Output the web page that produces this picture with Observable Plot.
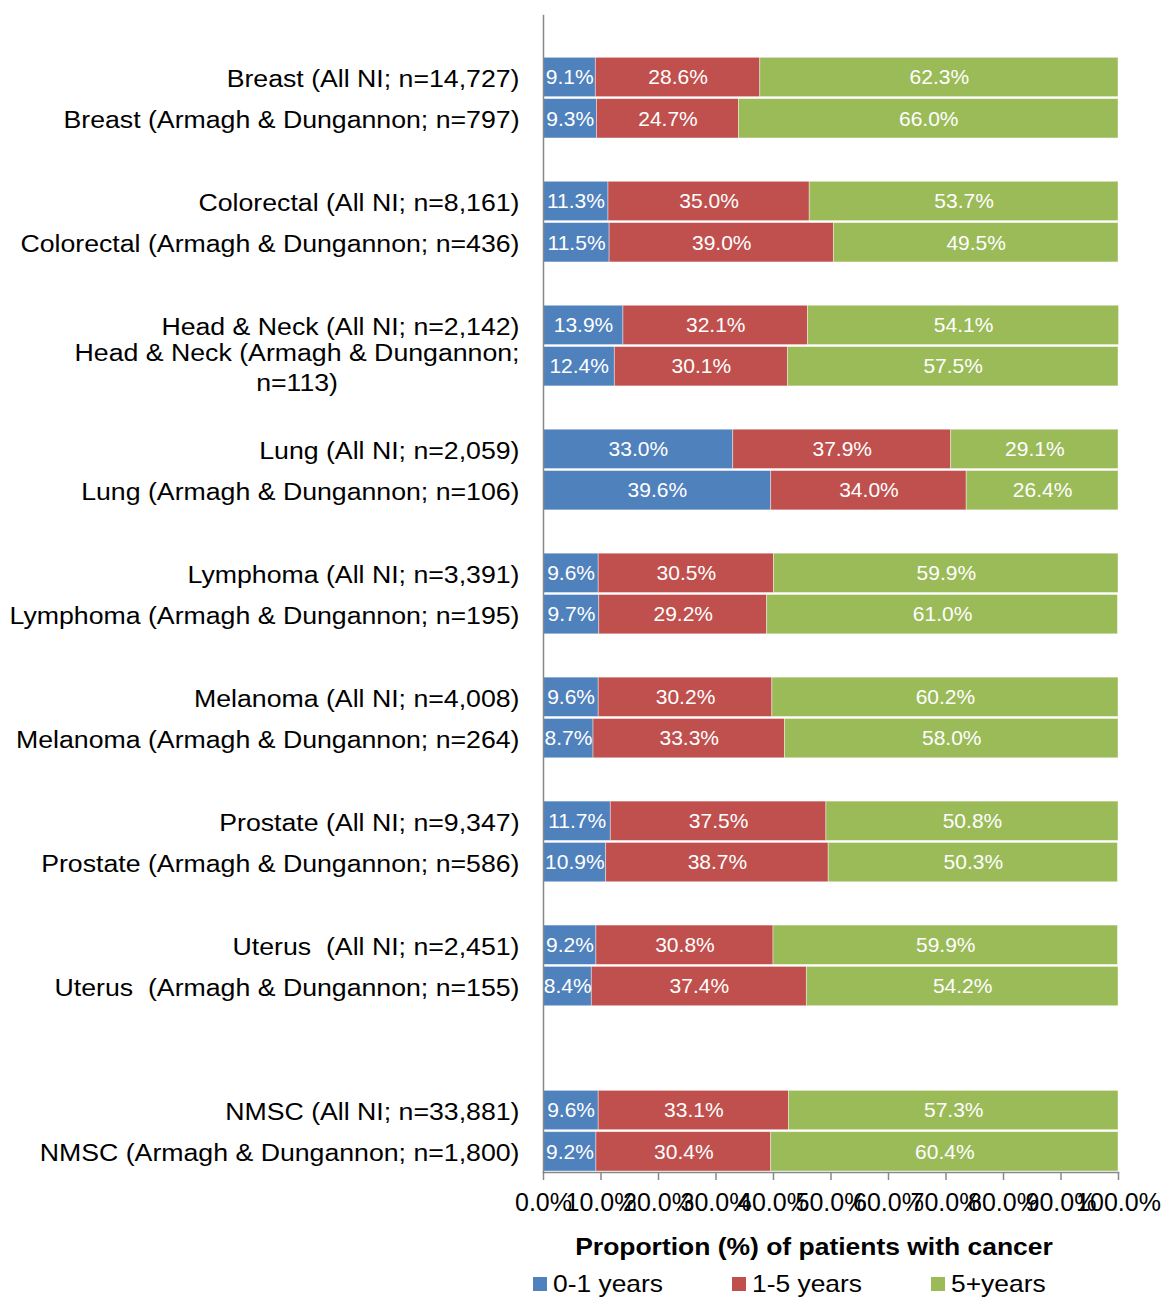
<!DOCTYPE html>
<html>
<head>
<meta charset="utf-8">
<script src="https://cdn.jsdelivr.net/npm/d3@7"></script>
<script src="https://cdn.jsdelivr.net/npm/@observablehq/plot@0.6"></script>
<style>
  body { margin: 0; background: #fff; font-family: "Liberation Sans", Arial, sans-serif; }
  #wrap { position: relative; width: 1166px; height: 1297px; }
  #legend { position: absolute; left: 533px; top: 1271px; display: flex; }
  #legend .item { width: 199px; display: flex; align-items: center; }
  #legend .sw { width: 14px; height: 14px; margin-right: 6px; }
  #legend .lab { font-size: 24px; display: inline-block; transform: scaleX(1.1); transform-origin: left center; line-height: 26px; }
</style>
</head>
<body>
<div id="wrap"><div id="chart"></div><div id="legend"></div></div>
<script>
const series = ["0-1 years", "1-5 years", "5+years"];
const colors = ["#4F81BD", "#C0504D", "#9BBB59"];

const categories = [
  "Breast (All NI; n=14,727)",
  "Breast (Armagh & Dungannon; n=797)",
  "Colorectal (All NI; n=8,161)",
  "Colorectal (Armagh & Dungannon; n=436)",
  "Head & Neck (All NI; n=2,142)",
  "Head & Neck (Armagh & Dungannon;\nn=113)",
  "Lung (All NI; n=2,059)",
  "Lung (Armagh & Dungannon; n=106)",
  "Lymphoma (All NI; n=3,391)",
  "Lymphoma (Armagh & Dungannon; n=195)",
  "Melanoma (All NI; n=4,008)",
  "Melanoma (Armagh & Dungannon; n=264)",
  "Prostate (All NI; n=9,347)",
  "Prostate (Armagh & Dungannon; n=586)",
  "Uterus  (All NI; n=2,451)",
  "Uterus  (Armagh & Dungannon; n=155)",
  "NMSC (All NI; n=33,881)",
  "NMSC (Armagh & Dungannon; n=1,800)"
];
const years0to1 = [9.1, 9.3, 11.3, 11.5, 13.9, 12.4, 33.0, 39.6, 9.6, 9.7, 9.6, 8.7, 11.7, 10.9, 9.2, 8.4, 9.6, 9.2];
const years1to5 = [28.6, 24.7, 35.0, 39.0, 32.1, 30.1, 37.9, 34.0, 30.5, 29.2, 30.2, 33.3, 37.5, 38.7, 30.8, 37.4, 33.1, 30.4];
const years5plus = [62.3, 66.0, 53.7, 49.5, 54.1, 57.5, 29.1, 26.4, 59.9, 61.0, 60.2, 58.0, 50.8, 50.3, 59.9, 54.2, 57.3, 60.4];
// number of empty rows before each pair of bars
const blankRowsBefore = [1, 1, 1, 1, 1, 1, 1, 1, 2];
const xTicks = [0, 10, 20, 30, 40, 50, 60, 70, 80, 90, 100];
const axisTitle = "Proportion (%) of patients with cancer";

const seriesValues = [years0to1, years1to5, years5plus];
const data = categories.flatMap((c, i) => series.map((s, j) => ({cat: c, series: s, value: seriesValues[j][i]})));

const domain = [];
let b = 0;
blankRowsBefore.forEach((n, g) => {
  for (let k = 0; k < n; k++) domain.push("\u0000blank" + (b++));
  domain.push(categories[2 * g], categories[2 * g + 1]);
});

const plot = Plot.plot({
  width: 1166,
  height: 1297,
  marginLeft: 543,
  marginRight: 48,
  marginTop: 15,
  marginBottom: 125,
  style: {fontFamily: "'Liberation Sans', Arial, sans-serif", fontSize: "25px", color: "#000", background: "#fff", overflow: "visible"},
  x: {domain: [0, 100], label: null},
  y: {domain, axis: null, padding: 0, round: false},
  color: {domain: series, range: colors},
  marks: [
    Plot.barX(data, {x: "value", y: "cat", fill: "series", insetTop: 1, insetBottom: 1, stroke: "#fff", strokeOpacity: 0.5, strokeWidth: 0.8}),
    Plot.text(data, Plot.stackX({x: "value", y: "cat", z: "series", text: d => d.value.toFixed(1) + "%", fill: "#fff", fontSize: 21})),
    Plot.text(categories, {y: d => d, text: d => d, frameAnchor: "left", textAnchor: "end", dx: -24, fontSize: 23, lineHeight: 1.3, fill: "#000"}),
    Plot.frame({anchor: "left", stroke: "#888", strokeWidth: 1.5}),
    Plot.frame({anchor: "bottom", stroke: "#888", strokeWidth: 1.5}),
    Plot.axisX({ticks: xTicks, tickFormat: d => d.toFixed(1) + "%", tickSize: 8, tickPadding: 13, fontSize: 25, stroke: "#888", strokeWidth: 1.5, label: null}),
    Plot.text([axisTitle], {frameAnchor: "bottom", dy: 82, dx: -17, fontWeight: "bold", fontSize: 23, fill: "#000"})
  ]
});
document.getElementById("chart").appendChild(plot);

// stretch labels horizontally like the original rendering
const labelSet = new Set(categories.map(c => c.replace(/\n/g, "")));
function stretch(el, k) {
  const parts = el.querySelectorAll("tspan");
  const targets = parts.length ? Array.from(parts) : [el];
  targets.forEach(t => {
    const len = t.getComputedTextLength();
    t.setAttribute("textLength", len * k);
    t.setAttribute("lengthAdjust", "spacingAndGlyphs");
  });
}
d3.select(plot).selectAll("text").each(function() {
  const txt = this.textContent;
  if (labelSet.has(txt)) {
    this.style.whiteSpace = "pre";
    stretch(this, 1.16);
    const parts = this.querySelectorAll("tspan");
    if (parts.length === 2) {
      const w1 = +parts[0].getAttribute("textLength");
      const w2 = +parts[1].getAttribute("textLength");
      parts[1].setAttribute("x", -(w1 - w2) / 2);
    }
  } else if (txt === axisTitle) {
    stretch(this, 1.15);
  }
});

// legend
const legend = d3.select("#legend");
series.forEach((s, i) => {
  const it = legend.append("div").attr("class", "item");
  it.append("div").attr("class", "sw").style("background", colors[i]);
  it.append("span").attr("class", "lab").text(s);
});
</script>
</body>
</html>
